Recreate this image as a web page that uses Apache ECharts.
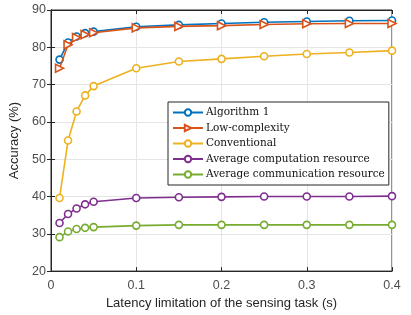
<!DOCTYPE html>
<html>
<head>
<meta charset="utf-8">
<script src="https://cdn.jsdelivr.net/npm/echarts@6/dist/echarts.min.js"></script>
<style>
  html, body { margin: 0; padding: 0; background: #fff; }
  #chart { width: 411px; height: 315px; }
</style>
</head>
<body>
<div id="chart"></div>
<script>
// latency limit (s)
var latency = [0.01, 0.02, 0.03, 0.04, 0.05, 0.1, 0.15, 0.2, 0.25, 0.3, 0.35, 0.4];
var algorithm1 = [76.7, 81.3, 82.9, 83.8, 84.2, 85.5, 86.0, 86.4, 86.7, 86.9, 87.1, 87.2];
var lowComplexity = [74.4, 80.7, 82.6, 83.4, 83.9, 85.2, 85.6, 85.8, 86.1, 86.3, 86.4, 86.4];
var conventional = [39.6, 55.0, 62.8, 67.1, 69.6, 74.4, 76.2, 76.9, 77.6, 78.2, 78.6, 79.1];
var avgComputation = [32.9, 35.3, 36.8, 37.9, 38.6, 39.6, 39.8, 39.9, 40.0, 40.0, 40.0, 40.1];
var avgCommunication = [29.1, 30.6, 31.3, 31.6, 31.8, 32.2, 32.4, 32.4, 32.4, 32.4, 32.4, 32.4];

var names = ["Algorithm 1", "Low-complexity", "Conventional",
  "Average computation resource", "Average communication resource"];
var colors = ["#0072BD", "#D95319", "#EDB120", "#7E2F8E", "#77AC30"];
var allData = [algorithm1, lowComplexity, conventional, avgComputation, avgCommunication];

function pairs(ys) {
  return latency.map(function (x, i) { return [x, ys[i]]; });
}

var series = allData.map(function (ys, k) {
  var s = {
    name: names[k],
    type: "line",
    data: pairs(ys),
    symbol: "circle",
    symbolSize: 7,
    showSymbol: true,
    lineStyle: { color: colors[k], width: 1.6 },
    itemStyle: { color: "#fff", borderColor: colors[k], borderWidth: 1.6 },
    emphasis: { disabled: true },
    z: 2 + k
  };
  if (k === 1) {
    s.symbol = "triangle";
    s.symbolRotate = -90;
    s.symbolSize = 8;
  }
  return s;
});

var axisColor = "#262626";
var chart = echarts.init(document.getElementById("chart"));
chart.setOption({
  animation: false,
  grid: { left: 51, right: 19, top: 10, bottom: 43, show: true, borderColor: axisColor, borderWidth: 1, backgroundColor: "transparent" },
  legend: {
    orient: "vertical",
    left: 168, top: 102,
    width: 220,
    itemWidth: 30, itemHeight: 8,
    itemGap: 4.5,
    padding: [5, 4, 5, 4],
    borderColor: axisColor, borderWidth: 1,
    backgroundColor: "#fff",
    textStyle: { fontFamily: "DejaVu Serif", fontSize: 10.5, color: "#111", padding: [0, 0, 0, -2] },
    data: names
  },
  xAxis: [{
    type: "value", min: 0, max: 0.4, interval: 0.1,
    name: "Latency limitation of the sensing task (s)",
    nameLocation: "middle", nameGap: 22,
    nameTextStyle: { fontFamily: "Liberation Sans", fontSize: 13, color: "#262626" },
    axisLine: { show: true, lineStyle: { color: axisColor } },
    axisTick: { show: true, inside: true, length: 4, lineStyle: { color: axisColor } },
    axisLabel: { fontFamily: "Liberation Sans", fontSize: 12.5, color: "#4d4d4d", margin: 8,
      formatter: function (v) { return v === 0 ? "0" : String(+v.toFixed(1)); } },
    splitLine: { show: true, lineStyle: { color: "#e5e5e5" } }
  }, {
    type: "value", position: "top", min: 0, max: 0.4, interval: 0.1,
    axisLine: { show: true, lineStyle: { color: axisColor } },
    axisTick: { show: true, inside: true, length: 4, lineStyle: { color: axisColor } },
    axisLabel: { show: false }, splitLine: { show: false }
  }],
  yAxis: [{
    type: "value", min: 20, max: 90, interval: 10,
    name: "Accuracy (%)",
    nameLocation: "middle", nameGap: 24,
    nameTextStyle: { fontFamily: "Liberation Sans", fontSize: 13, color: "#262626" },
    axisLine: { show: true, lineStyle: { color: axisColor } },
    axisTick: { show: true, inside: true, length: 4, lineStyle: { color: axisColor } },
    axisLabel: { fontFamily: "Liberation Sans", fontSize: 12.5, color: "#4d4d4d", margin: 5 },
    splitLine: { show: true, lineStyle: { color: "#e5e5e5" } }
  }, {
    type: "value", position: "right", min: 20, max: 90, interval: 10,
    axisLine: { show: true, lineStyle: { color: axisColor } },
    axisTick: { show: true, inside: true, length: 4, lineStyle: { color: axisColor } },
    axisLabel: { show: false }, splitLine: { show: false }
  }],
  series: series
});
</script>
</body>
</html>
